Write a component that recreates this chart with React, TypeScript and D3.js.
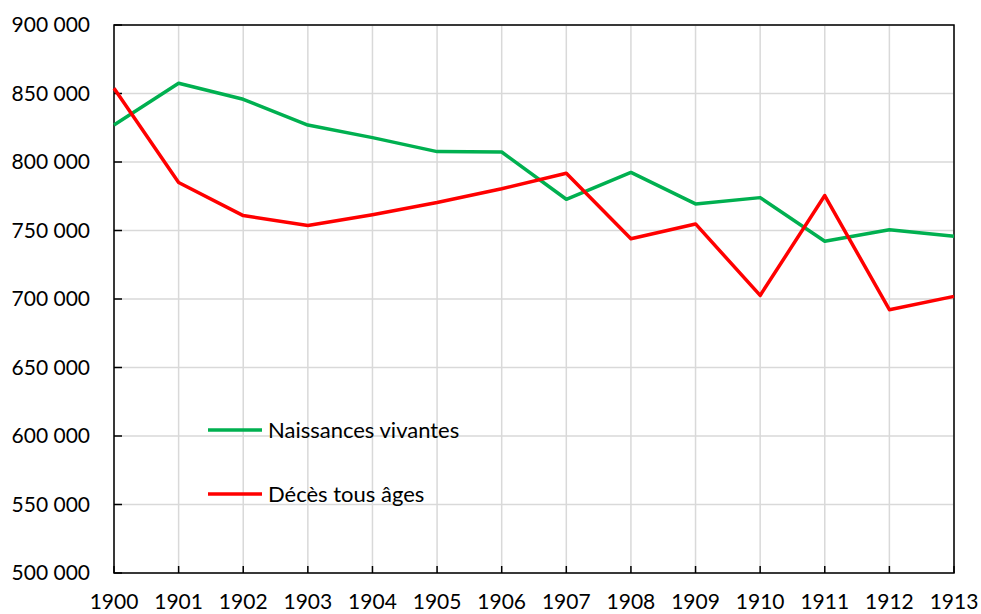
import * as d3 from "d3";

const years = [1900, 1901, 1902, 1903, 1904, 1905, 1906, 1907, 1908, 1909, 1910, 1911, 1912, 1913];
const naissances = [827000, 857500, 845800, 827000, 817800, 807600, 807300, 772800, 792400, 769400, 774000, 742200, 750500, 745800];
const deces = [853800, 785000, 760900, 753600, 761500, 770400, 780500, 791800, 744000, 754800, 702600, 775500, 692200, 701900];
const yTicks = [500000, 550000, 600000, 650000, 700000, 750000, 800000, 850000, 900000];

const W = 981;
const H = 614;
const left = 114;
const right = 954;
const top = 25;
const bottom = 573;
const font = "Lato, 'Open Sans', sans-serif";

export default function App() {
  const x = d3.scaleLinear().domain([1900, 1913]).range([left, right]);
  const y = d3.scaleLinear().domain([500000, 900000]).range([bottom, top]);
  const fmt = (v: number) => d3.format(",")(v).replace(/,/g, " ");

  const line = d3
    .line<number>()
    .x((_, i) => x(years[i]))
    .y((d) => y(d));

  const series = [
    { name: "Naissances vivantes", values: naissances, color: "#00B050", ly: 430 },
    { name: "Décès tous âges", values: deces, color: "#FF0000", ly: 494 },
  ];

  return (
    <svg width={W} height={H} style={{ position: "absolute", left: 0, top: 0 }} fontFamily={font}>
      <rect width={W} height={H} fill="#fff" />
      {/* gridlines */}
      {yTicks.map((t) => (
        <line key={"gy" + t} x1={left} x2={right} y1={y(t)} y2={y(t)} stroke="#d9d9d9" strokeWidth={1.5} />
      ))}
      {years.map((yr) => (
        <line key={"gx" + yr} x1={x(yr)} x2={x(yr)} y1={top} y2={bottom} stroke="#d9d9d9" strokeWidth={1.5} />
      ))}
      {/* frame */}
      <rect x={left} y={top} width={right - left} height={bottom - top} fill="none" stroke="#000" strokeWidth={1.5} />
      {/* ticks */}
      {yTicks.map((t) => (
        <line key={"ty" + t} x1={left} x2={left + 8} y1={y(t)} y2={y(t)} stroke="#000" strokeWidth={1.5} />
      ))}
      {years.map((yr) => (
        <line key={"tx" + yr} x1={x(yr)} x2={x(yr)} y1={bottom - 7} y2={bottom} stroke="#000" strokeWidth={1.5} />
      ))}
      {/* labels */}
      {yTicks.map((t) => (
        <text key={"ly" + t} x={90} y={y(t)} dy="0.35em" textAnchor="end" fontSize={21} fill="#000">
          {fmt(t)}
        </text>
      ))}
      {years.map((yr) => (
        <text key={"lx" + yr} x={x(yr)} y={609} textAnchor="middle" fontSize={21} fill="#000">
          {yr}
        </text>
      ))}
      {/* series */}
      {series.map((s) => (
        <path key={s.name} d={line(s.values) ?? ""} fill="none" stroke={s.color} strokeWidth={3.5} strokeLinejoin="round" />
      ))}
      {/* legend */}
      {series.map((s) => (
        <g key={"leg" + s.name}>
          <line x1={208} x2={262} y1={s.ly} y2={s.ly} stroke={s.color} strokeWidth={3.5} />
          <text x={268} y={s.ly} dy="0.35em" fontSize={22} fill="#000">
            {s.name}
          </text>
        </g>
      ))}
    </svg>
  );
}
